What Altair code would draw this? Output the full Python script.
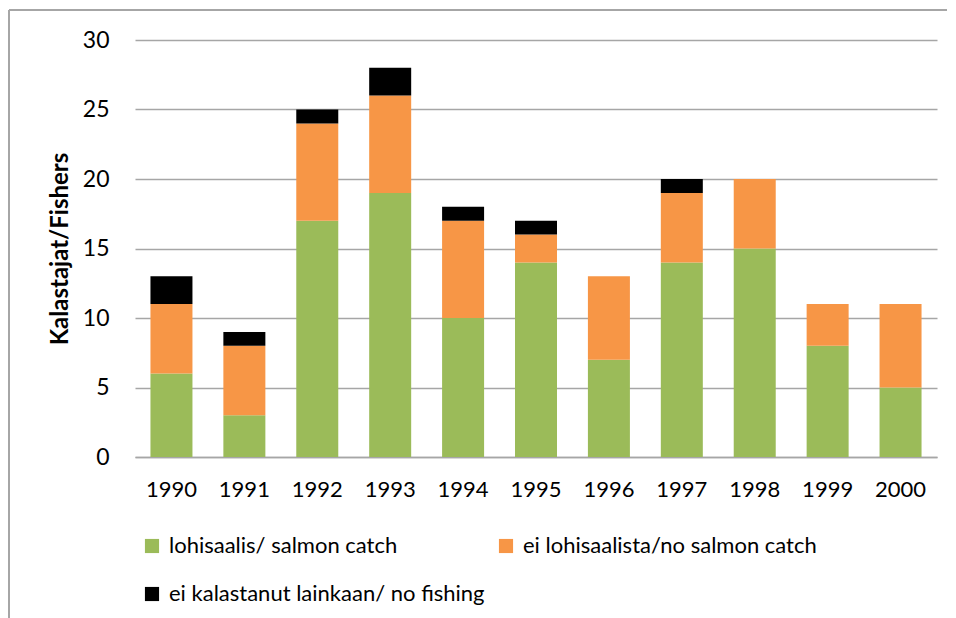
import altair as alt
import pandas as pd

years = ["1990", "1991", "1992", "1993", "1994", "1995", "1996", "1997", "1998", "1999", "2000"]
salmon_catch = [6, 3, 17, 19, 10, 14, 7, 14, 15, 8, 5]
no_salmon_catch = [5, 5, 7, 7, 7, 2, 6, 5, 5, 3, 6]
no_fishing = [2, 1, 1, 2, 1, 1, 0, 1, 0, 0, 0]

series_names = ["lohisaalis/ salmon catch", "ei lohisaalista/no salmon catch", "ei kalastanut lainkaan/ no fishing"]
series_colors = ["#9bbb59", "#f79646", "#000000"]

rows = []
for i, y in enumerate(years):
    for k, vals in enumerate([salmon_catch, no_salmon_catch, no_fishing]):
        rows.append({"year": y, "series": series_names[k], "value": vals[i], "order": k})
df = pd.DataFrame(rows)

# legend grid order (fills column by column)
legend_domain = [series_names[0], series_names[2], series_names[1]]
legend_colors = [series_colors[0], series_colors[2], series_colors[1]]

FONT = "Lato"

bars = alt.Chart(df).mark_bar(size=42).encode(
    x=alt.X("year:N", sort=years,
            scale=alt.Scale(paddingInner=0.42, paddingOuter=0.21),
            axis=alt.Axis(title=None, labelAngle=0, labelFontSize=22, labelFont=FONT,
                          labelColor="#000000", ticks=False, labelPadding=22,
                          domainColor="#a6a6a6", domainWidth=1.5)),
    y=alt.Y("value:Q", stack="zero",
            scale=alt.Scale(domain=[0, 30], nice=False),
            axis=alt.Axis(title="Kalastajat/Fishers", values=[0, 5, 10, 15, 20, 25, 30],
                          titleFont=FONT, titleFontSize=24, titleFontWeight="bold",
                          titleColor="#000000", titlePadding=10,
                          labelFont=FONT, labelFontSize=23, labelColor="#000000",
                          ticks=False, domain=False, labelPadding=26,
                          grid=True, gridColor="#a6a6a6", gridWidth=1.5)),
    color=alt.Color("series:N",
                    scale=alt.Scale(domain=legend_domain, range=legend_colors),
                    legend=alt.Legend(title=None, orient="none", legendX=6, legendY=495,
                                      columns=2, columnPadding=10, rowPadding=26,
                                      symbolType="square", symbolSize=200,
                                      symbolStrokeWidth=0, labelFont=FONT,
                                      labelFontSize=22, labelColor="#000000",
                                      labelOffset=6, symbolOpacity=1, labelLimit=0)),
    order=alt.Order("order:Q"),
)

frame_top = alt.Chart(pd.DataFrame({"a": [0]})).mark_rule(color="#a6a6a6", strokeWidth=2).encode(
    x=alt.value(-126), x2=alt.value(830), y=alt.value(-30)
)
frame_left = alt.Chart(pd.DataFrame({"a": [0]})).mark_rule(color="#a6a6a6", strokeWidth=2).encode(
    x=alt.value(-126), y=alt.value(-30), y2=alt.value(580)
)

chart = alt.layer(bars, frame_top, frame_left).properties(
    width=802, height=417,
    autosize=alt.AutoSizeParams(type="none"),
    padding={"left": 127, "top": 32, "right": 10, "bottom": 165},
    background="#ffffff",
).configure_view(stroke=None)

chart.save("out.html", embed_options={"renderer": "svg", "actions": False})
